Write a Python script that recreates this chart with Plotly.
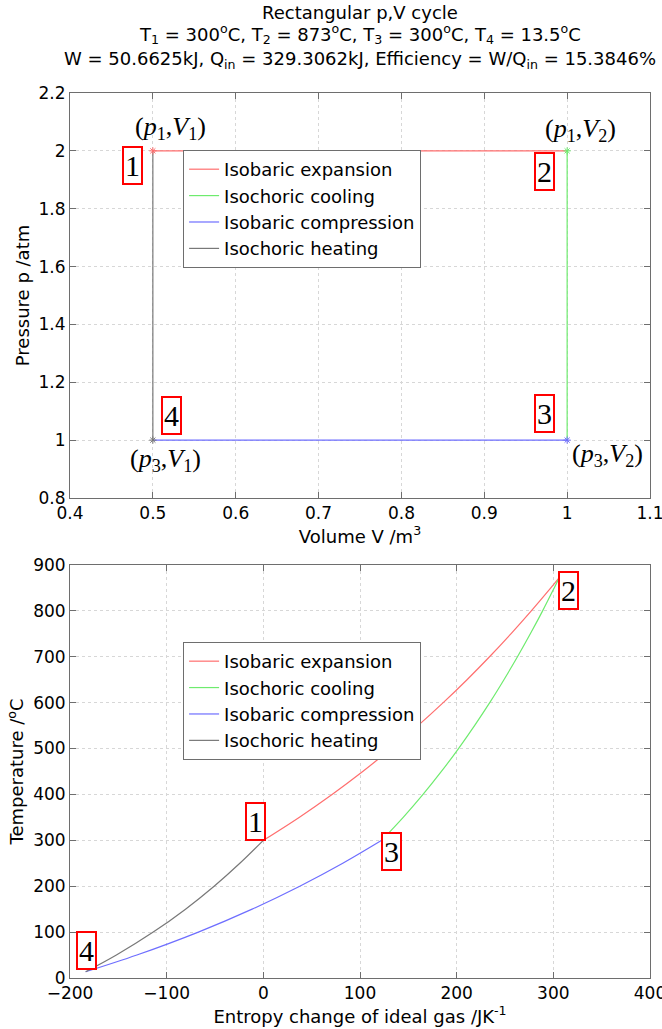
import plotly.graph_objects as go

# ---- p,V cycle data ----
V_pts = [0.5, 1.0, 1.0, 0.5]      # states 1,2,3,4 volume /m^3
p_pts = [2.0, 2.0, 1.0, 1.0]      # pressure /atm
names = ["Isobaric expansion", "Isochoric cooling", "Isobaric compression", "Isochoric heating"]
colors = ["rgb(255,110,110)", "rgb(110,235,110)", "rgb(110,110,255)", "rgb(120,120,120)"]

# ---- T,S data ----
T_exp = [300, 350, 400, 450, 500, 550, 600, 650, 700, 750, 800, 850, 873]
S_exp = [0, 37.0, 71.1, 102.8, 132.3, 160.0, 186.1, 210.7, 234.0, 256.1, 277.2, 297.4, 306.3]
T_cool = [873, 850, 800, 750, 700, 650, 600, 550, 500, 450, 400, 350, 300]
S_cool = [306.3, 300.9, 288.9, 276.2, 262.9, 248.9, 234.2, 218.5, 201.9, 184.2, 165.2, 144.7, 122.5]
T_comp = [300, 250, 200, 150, 100, 50, 13.5]
S_comp = [122.5, 82.2, 37.7, -11.6, -67.2, -130.8, -183.8]
T_heat = [13.5, 50, 100, 150, 200, 250, 300]
S_heat = [-183.8, -152.0, -113.9, -80.5, -50.9, -24.3, 0]

title_lines = [
    "Rectangular p,V cycle",
    "T<sub>1</sub> = 300<sup>o</sup>C, T<sub>2</sub> = 873<sup>o</sup>C, T<sub>3</sub> = 300<sup>o</sup>C, T<sub>4</sub> = 13.5<sup>o</sup>C",
    "W = 50.6625kJ, Q<sub>in</sub> = 329.3062kJ, Efficiency = W/Q<sub>in</sub> = 15.3846%",
]

SANS = "DejaVu Sans, Arial"
SERIF = "Liberation Serif, Times New Roman"

fig = go.Figure()

# top plot segments
for i in range(4):
    j = (i + 1) % 4
    fig.add_trace(go.Scatter(
        x=[V_pts[i], V_pts[j]], y=[p_pts[i], p_pts[j]], mode="lines",
        line=dict(color=colors[i], width=1.2), name=names[i],
        xaxis="x", yaxis="y", legend="legend"))
for i in range(4):
    fig.add_trace(go.Scatter(
        x=[V_pts[i]], y=[p_pts[i]], mode="markers",
        marker=dict(symbol="asterisk-open", size=6, color=colors[i],
                    line=dict(color=colors[i], width=1)),
        showlegend=False, xaxis="x", yaxis="y"))

# bottom plot curves
TS = [(S_exp, T_exp), (S_cool, T_cool), (S_comp, T_comp), (S_heat, T_heat)]
for i, (s, t) in enumerate(TS):
    fig.add_trace(go.Scatter(
        x=s, y=t, mode="lines", line=dict(color=colors[i], width=1.2, shape="spline"),
        name=names[i], xaxis="x2", yaxis="y2", legend="legend2"))

ann = []
for txt, yy in zip(title_lines, [1.0915, 1.0667, 1.0373]):
    ann.append(dict(text=txt, x=0.5, y=yy, xref="paper", yref="paper", showarrow=False,
                    xanchor="center", yanchor="middle",
                    font=dict(family=SANS, size=18, color="black")))

serif = dict(family=SERIF, size=26, color="black")
coord_labels = [
    ("(<i>p</i><sub>1</sub>,<i>V</i><sub>1</sub>)", 0.521, 2.079),
    ("(<i>p</i><sub>1</sub>,<i>V</i><sub>2</sub>)", 1.016, 2.072),
    ("(<i>p</i><sub>3</sub>,<i>V</i><sub>1</sub>)", 0.515, 0.930),
    ("(<i>p</i><sub>3</sub>,<i>V</i><sub>2</sub>)", 1.049, 0.947),
]
for txt, x, y in coord_labels:
    ann.append(dict(text=txt, x=x, y=y, xref="x", yref="y", showarrow=False, font=serif))

box_font = dict(family=SERIF, size=30, color="black")
boxes_top = [("1", 0.475, 1.951), ("2", 0.973, 1.927), ("3", 0.973, 1.093), ("4", 0.523, 1.086)]
for txt, x, y in boxes_top:
    ann.append(dict(text=txt, x=x, y=y, xref="x", yref="y", showarrow=False, font=box_font,
                    bordercolor="red", borderwidth=2, borderpad=1, bgcolor="white"))
boxes_bot = [("1", -8, 342), ("2", 316, 845), ("3", 133, 276), ("4", -183, 61)]
for txt, x, y in boxes_bot:
    ann.append(dict(text=txt, x=x, y=y, xref="x2", yref="y2", showarrow=False, font=box_font,
                    bordercolor="red", borderwidth=2, borderpad=1, bgcolor="white"))

axis_common = dict(showgrid=True, gridcolor="rgb(215,215,215)", griddash="dot", gridwidth=1,
                   showline=True, linecolor="rgb(110,110,110)", linewidth=1, mirror="ticks",
                   ticks="inside", ticklen=6, tickcolor="rgb(110,110,110)", zeroline=False,
                   ticklabeloverflow="allow", automargin=False,
                   tickfont=dict(family=SANS, size=17, color="black"))
title_font = dict(family=SANS, size=18, color="black")

leg_common = dict(bgcolor="white", bordercolor="rgb(110,110,110)", borderwidth=1,
                  font=dict(family=SANS, size=18, color="black"),
                  xanchor="left", yanchor="top", tracegroupgap=0, itemwidth=30)

fig.update_layout(
    width=662, height=1029,
    margin=dict(l=70, r=12, t=93, b=51),
    plot_bgcolor="white", paper_bgcolor="white",
    xaxis=dict(domain=[0, 1], anchor="y", range=[0.4, 1.1], dtick=0.1,
               title=dict(text="Volume V /m<sup>3</sup>", font=title_font, standoff=2), **axis_common),
    yaxis=dict(domain=[0.5424, 1], anchor="x", range=[0.8, 2.2], dtick=0.2,
               title=dict(text="Pressure p /atm", font=title_font, standoff=4), **axis_common),
    xaxis2=dict(domain=[0, 1], anchor="y2", range=[-200, 400], dtick=100,
                title=dict(text="Entropy change of ideal gas /JK<sup>-1</sup>", font=title_font, standoff=2),
                **axis_common),
    yaxis2=dict(domain=[0, 0.4667], anchor="x2", range=[0, 900], dtick=100,
                title=dict(text="Temperature /<sup>o</sup>C", font=title_font, standoff=4), **axis_common),
    legend=dict(x=0.195, y=0.9356, **leg_common),
    legend2=dict(x=0.195, y=0.3797, **leg_common),
    annotations=ann,
    showlegend=True,
)

fig.write_html("out.html")
